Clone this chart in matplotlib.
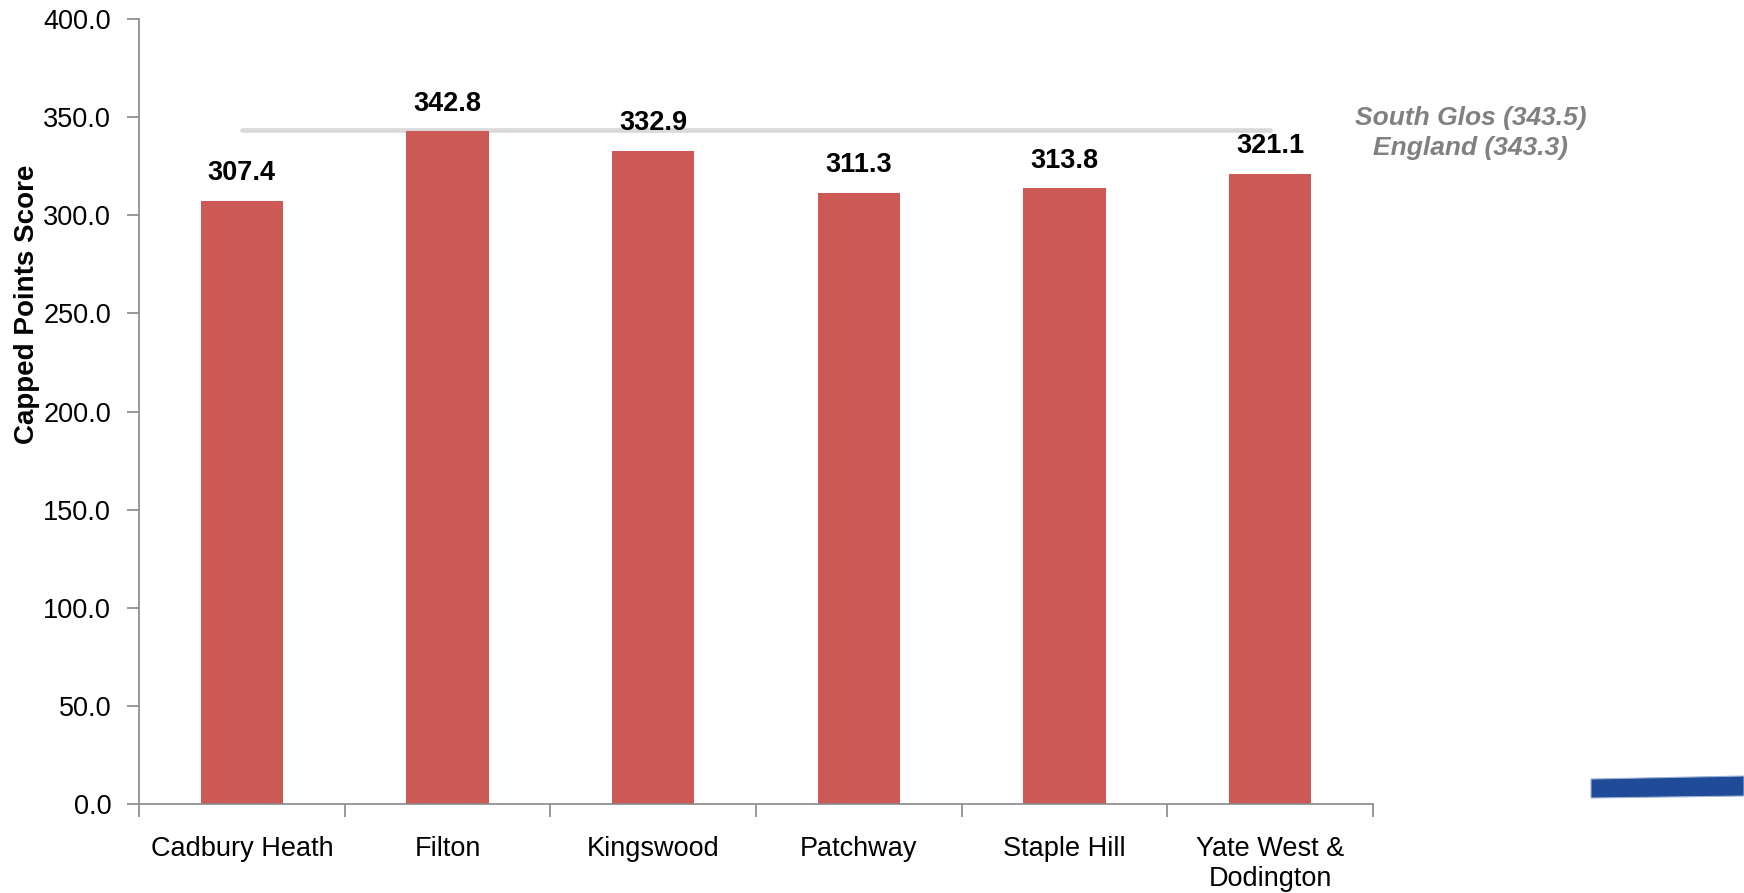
import matplotlib
matplotlib.use("Agg")
import matplotlib.pyplot as plt
from matplotlib.patches import Polygon

# data
wards = ["Cadbury Heath", "Filton", "Kingswood", "Patchway", "Staple Hill",
         "Yate West &\nDodington"]
scores = [307.4, 342.8, 332.9, 311.3, 313.8, 321.1]
south_glos = 343.5
england = 343.3
y_ticks = [0, 50, 100, 150, 200, 250, 300, 350, 400]

BAR_COLOR = "#CD5957"
LINE_COLOR = "#D9D9D9"
AXIS_COLOR = "#888888"

plt.rcParams["font.family"] = ["Liberation Sans", "DejaVu Sans"]

W, H = 1744, 893
fig = plt.figure(figsize=(W / 100, H / 100), dpi=100)
ax = fig.add_axes([139 / W, 1 - 804 / H, (1373 - 139) / W, (804 - 19) / H])

x = list(range(len(wards)))
ax.bar(x, scores, width=0.4, color=BAR_COLOR, zorder=2)

for xi, v in zip(x, scores):
    ax.annotate(f"{v:.1f}", (xi, v), xytext=(0, 10.5), textcoords="offset points",
                ha="center", va="bottom", fontsize=19.5, fontweight="bold",
                color="black", zorder=5)

# South Glos average line across the wards
ax.plot([x[0], x[-1]], [south_glos, south_glos], color=LINE_COLOR, lw=3.3,
        solid_capstyle="round", zorder=1)
ax.text(5.976, 342.0, f"South Glos ({south_glos:.1f})\nEngland ({england:.1f})",
        ha="center", va="center", fontsize=19, fontweight="bold", style="italic",
        color="#808080", linespacing=1.3, clip_on=False)

ax.set_xlim(-0.5, len(wards) - 0.5)
ax.set_ylim(0, 400)
ax.set_yticks(y_ticks)
ax.set_yticklabels([f"{t:.1f}" for t in y_ticks])

# category labels at centres, tick marks at the category boundaries
ax.set_xticks(x)
ax.set_xticklabels(wards, linespacing=1.2)
ax.set_xticks([i - 0.5 for i in range(len(wards) + 1)], minor=True)
ax.tick_params(axis="x", which="major", length=0, pad=23, labelsize=19.5)
ax.tick_params(axis="x", which="minor", length=9, width=1.2, color=AXIS_COLOR,
               direction="out")
ax.tick_params(axis="y", length=9, width=1.2, color=AXIS_COLOR, pad=11,
               labelsize=19.5, direction="out")

for side in ("top", "right"):
    ax.spines[side].set_visible(False)
for side in ("left", "bottom"):
    ax.spines[side].set_color(AXIS_COLOR)
    ax.spines[side].set_linewidth(1.2)

fig.text(27 / W, 1 - 304 / H, "Capped Points Score", rotation=90, ha="center",
         va="center", fontsize=20, fontweight="bold")

# blue slide decoration in the lower right corner
fig.patches.append(Polygon(
    [(1591 / W, 1 - 779 / H), (W / W, 1 - 776 / H), (W / W, 1 - 796 / H),
     (1591 / W, 1 - 798 / H)],
    closed=True, transform=fig.transFigure, facecolor="#1F4B99",
    edgecolor="#9DB3D8", linewidth=0.8))

fig.savefig("out.png", dpi=100)
